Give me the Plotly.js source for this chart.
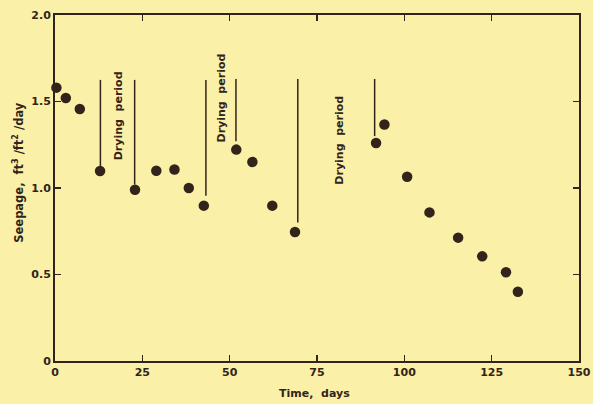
<!DOCTYPE html>
<html>
<head>
<meta charset="utf-8">
<script src="https://cdn.plot.ly/plotly-3.0.1.min.js"></script>
<style>html,body{margin:0;padding:0;background:#fbf0a8;}</style>
</head>
<body>
<div id="chart" style="width:593px;height:404px;"></div>
<script>
// Seepage measurements
const timeDays = [0.4, 3.1, 7.1, 12.9, 22.9, 29.0, 34.2, 38.3, 42.6, 51.9, 56.5, 62.2, 68.7, 91.9, 94.3, 100.8, 107.2, 115.4, 122.3, 129.1, 132.5];
const seepage  = [1.58, 1.52, 1.457, 1.098, 0.99, 1.10, 1.107, 1.0, 0.898, 1.222, 1.15, 0.898, 0.746, 1.26, 1.367, 1.065, 0.859, 0.713, 0.605, 0.513, 0.40];

// Drying period boundary lines
const dryLineX      = [13.0, 22.8, 43.2, 51.8, 69.5, 91.5];
const dryLineTop    = [1.625, 1.625, 1.625, 1.63, 1.63, 1.63];
const dryLineBottom = [1.124, 1.02, 0.955, 1.27, 0.80, 1.30];

// Drying period labels
const labelText = ["Drying  period", "Drying  period", "Drying  period"];
const labelX = [18.2, 47.6, 81.6];
const labelY = [1.418, 1.519, 1.274];

const ink = '#32241a';
const bg = '#fbf0a8';
const fontFam = 'DejaVu Sans, sans-serif';

const lx = [], ly = [];
dryLineX.forEach((x, i) => { lx.push(x, x, null); ly.push(dryLineTop[i], dryLineBottom[i], null); });

const traces = [
  {x: lx, y: ly, mode: 'lines', line: {color: ink, width: 1.5}, hoverinfo: 'skip', showlegend: false},
  {x: timeDays, y: seepage, mode: 'markers', marker: {color: ink, size: 10.5}, showlegend: false, cliponaxis: false}
];

const annotations = labelText.map((t, i) => ({
  x: labelX[i], y: labelY[i], xref: 'x', yref: 'y', text: t, showarrow: false,
  textangle: -90, font: {family: fontFam, size: 11, color: ink, weight: 'bold'}
}));
annotations.push({
  xref: 'paper', yref: 'paper', x: -0.07, y: 0.545, xanchor: 'center', text: 'Seepage,  ft<sup>3</sup> /ft<sup>2</sup> /day',
  showarrow: false, textangle: -90, font: {family: fontFam, size: 11.5, color: ink, weight: 'bold'}
});
annotations.push({
  xref: 'paper', yref: 'paper', x: 0.495, y: -0.095, yanchor: 'middle', text: 'Time,  days',
  showarrow: false, font: {family: fontFam, size: 11, color: ink, weight: 'bold'}
});

const axisCommon = {
  showgrid: false, zeroline: false, showline: true, linecolor: ink, linewidth: 2,
  mirror: 'ticks', ticks: 'inside', ticklen: 6, tickwidth: 1.5, tickcolor: ink,
  tickfont: {family: fontFam, size: 11, color: ink, weight: 'bold'}
};

const layout = {
  width: 593, height: 404,
  margin: {l: 54.5, r: 13.5, t: 15, b: 42.5},
  paper_bgcolor: bg, plot_bgcolor: bg,
  xaxis: Object.assign({}, axisCommon, {range: [0, 150], tickvals: [0, 25, 50, 75, 100, 125, 150], ticktext: ['0','25','50','75','100','125','150']}),
  yaxis: Object.assign({}, axisCommon, {range: [0, 2], tickvals: [0, 0.5, 1.0, 1.5, 2.0], ticktext: ['0','0.5','1.0','1.5','2.0']}),
  annotations: annotations,
  showlegend: false
};

Plotly.newPlot('chart', traces, layout, {displayModeBar: false, staticPlot: true});
</script>
</body>
</html>
